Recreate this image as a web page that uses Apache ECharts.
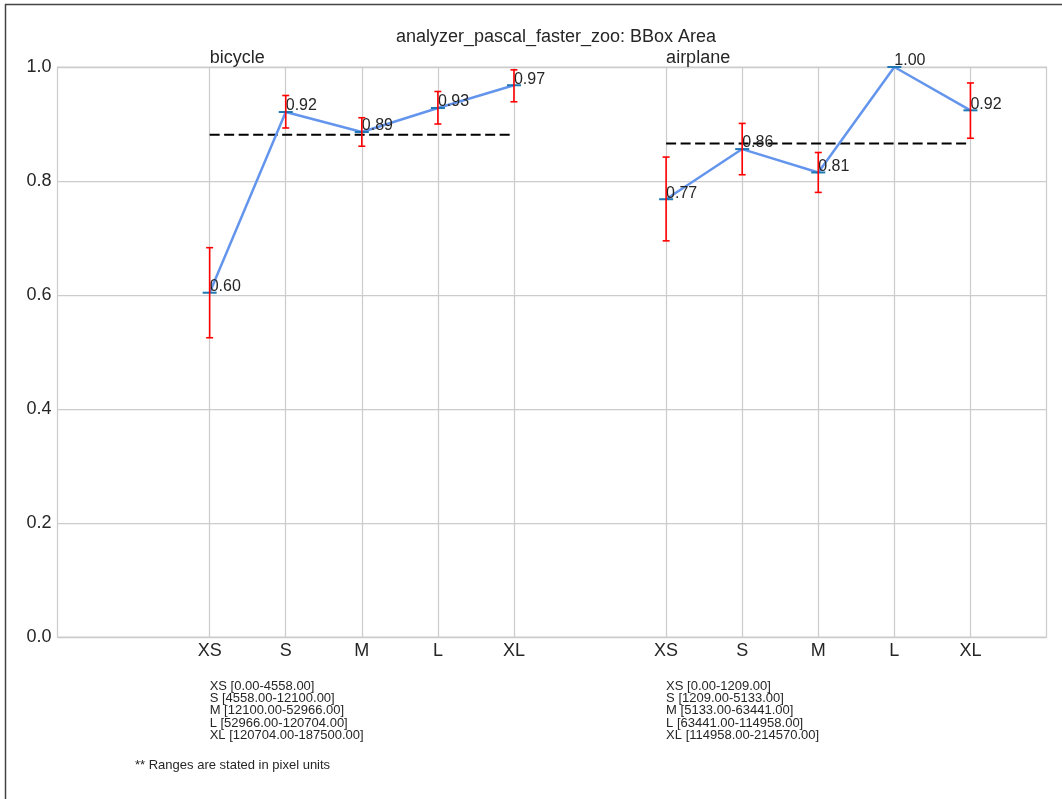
<!DOCTYPE html>
<html><head><meta charset="utf-8">
<script src="https://cdn.jsdelivr.net/npm/echarts@6/dist/echarts.min.js"></script>
<style>html,body{margin:0;padding:0;background:#fff}#c{width:1062px;height:799px}</style>
</head><body><div id="c"></div>
<script>
const chartTitle = 'analyzer_pascal_faster_zoo: BBox Area';
const sizeCategories = ['XS', 'S', 'M', 'L', 'XL'];
const groupNames = ['bicycle', 'airplane'];
const bicycleValues = [0.604, 0.921, 0.886, 0.928, 0.968];
const bicycleLow = [0.525, 0.893, 0.861, 0.900, 0.939];
const bicycleHigh = [0.683, 0.950, 0.911, 0.957, 0.995];
const bicycleMean = 0.881;
const airplaneValues = [0.768, 0.856, 0.815, 1.000, 0.924];
const airplaneLow = [0.695, 0.811, 0.780, null, 0.875];
const airplaneHigh = [0.842, 0.901, 0.850, null, 0.972];
const airplaneMean = 0.866;
const bicycleRanges = ['XS [0.00-4558.00]', 'S [4558.00-12100.00]', 'M [12100.00-52966.00]', 'L [52966.00-120704.00]', 'XL [120704.00-187500.00]'];
const airplaneRanges = ['XS [0.00-1209.00]', 'S [1209.00-5133.00]', 'M [5133.00-63441.00]', 'L [63441.00-114958.00]', 'XL [114958.00-214570.00]'];
const footnote = '** Ranges are stated in pixel units';
const yMin = 0, yMax = 1.0, yInterval = 0.2;

// layout of groups on the x axis (slot indices)
const groupStart = [2, 8];
const slotCount = 14;
const groups = [
  {name: groupNames[0], values: bicycleValues, low: bicycleLow, high: bicycleHigh, mean: bicycleMean, ranges: bicycleRanges},
  {name: groupNames[1], values: airplaneValues, low: airplaneLow, high: airplaneHigh, mean: airplaneMean, ranges: airplaneRanges}
];
const xLabels = new Array(slotCount).fill('');
groupStart.forEach(s => sizeCategories.forEach((c, i) => { xLabels[s + i] = c; }));

const TXT = '#262626';
const FONT = 'Liberation Sans, Arial, sans-serif';

const series = [];
groups.forEach((g, gi) => {
  const s0 = groupStart[gi];
  series.push({
    type: 'line', name: g.name + '_mean', z: 3,
    data: [[s0, g.mean], [s0 + g.values.length - 1, g.mean]],
    symbol: 'none', silent: true,
    lineStyle: {color: '#000', width: 2, type: [10, 4.5]}
  });
  series.push({
    type: 'line', name: g.name, z: 4, clip: false,
    data: g.values.map((v, i) => [s0 + i, v]),
    symbol: 'rect', symbolSize: [14, 2],
    itemStyle: {color: '#1f77b4'},
    lineStyle: {color: '#6495ED', width: 2.5},
    label: {
      show: true, position: [7, 3], align: 'left', verticalAlign: 'bottom',
      color: TXT, fontSize: 16, fontFamily: FONT,
      formatter: p => p.value[1].toFixed(2)
    }
  });
  series.push({
    type: 'custom', name: g.name + '_err', z: 5, clip: false,
    data: g.values.map((v, i) => [s0 + i, g.low[i], g.high[i]]).filter(d => d[1] !== null),
    renderItem: (params, api) => {
      const x = api.value(0);
      const lo = api.coord([x, api.value(1)]);
      const hi = api.coord([x, api.value(2)]);
      const cw = 3.5;
      const style = {stroke: '#ff0000', lineWidth: 1.6, fill: null};
      return {type: 'group', children: [
        {type: 'line', shape: {x1: lo[0], y1: lo[1], x2: hi[0], y2: hi[1]}, style},
        {type: 'line', shape: {x1: lo[0] - cw, y1: lo[1], x2: lo[0] + cw, y2: lo[1]}, style},
        {type: 'line', shape: {x1: hi[0] - cw, y1: hi[1], x2: hi[0] + cw, y2: hi[1]}, style}
      ]};
    }
  });
});

const chart = echarts.init(document.getElementById('c'), null, {renderer: 'canvas'});
chart.setOption({
  backgroundColor: '#fff',
  animation: false,
  title: {text: chartTitle, left: 551, textAlign: 'center', top: 23,
    textStyle: {color: TXT, fontSize: 18, fontWeight: 'normal', fontFamily: FONT}},
  grid: {left: 57.5, right: 15.5, top: 67, bottom: 162, show: true, borderColor: '#cccccc', borderWidth: 1.25, backgroundColor: 'transparent'},
  xAxis: {
    type: 'category', data: xLabels, boundaryGap: false,
    axisLine: {show: false}, axisTick: {show: false},
    axisLabel: {interval: (i, v) => v !== '', color: TXT, fontSize: 18, fontFamily: FONT, margin: 5},
    splitLine: {show: true, interval: (i, v) => v !== '', lineStyle: {color: '#cccccc', width: 1.25}}
  },
  yAxis: {
    type: 'value', min: yMin, max: yMax, interval: yInterval,
    axisLine: {show: false}, axisTick: {show: false},
    axisLabel: {color: TXT, fontSize: 18, fontFamily: FONT, margin: 6, formatter: v => v.toFixed(1)},
    splitLine: {show: true, lineStyle: {color: '#cccccc', width: 1.25}}
  },
  series
});

const graphics = [
  {type: 'line', shape: {x1: 5, y1: 4.5, x2: 1062, y2: 4.5}, style: {stroke: '#444', lineWidth: 1.5}, silent: true},
  {type: 'line', shape: {x1: 5.5, y1: 4, x2: 5.5, y2: 799}, style: {stroke: '#444', lineWidth: 1.5}, silent: true}
];
groups.forEach((g, gi) => {
  const px = chart.convertToPixel({xAxisIndex: 0}, groupStart[gi]);
  graphics.push({type: 'text', x: px, y: 58, style: {text: g.name, fill: TXT, font: '18px ' + FONT, textAlign: 'left', textVerticalAlign: 'middle'}, silent: true});
  graphics.push({type: 'text', x: px, y: 680, style: {text: g.ranges.join('\n'), fill: TXT, font: '13px ' + FONT, lineHeight: 12.3, textAlign: 'left', textVerticalAlign: 'top'}, silent: true});
});
graphics.push({type: 'text', x: 135, y: 765, style: {text: footnote, fill: TXT, font: '13px ' + FONT, textAlign: 'left', textVerticalAlign: 'middle'}, silent: true});
chart.setOption({graphic: graphics});
</script>
</body></html>
